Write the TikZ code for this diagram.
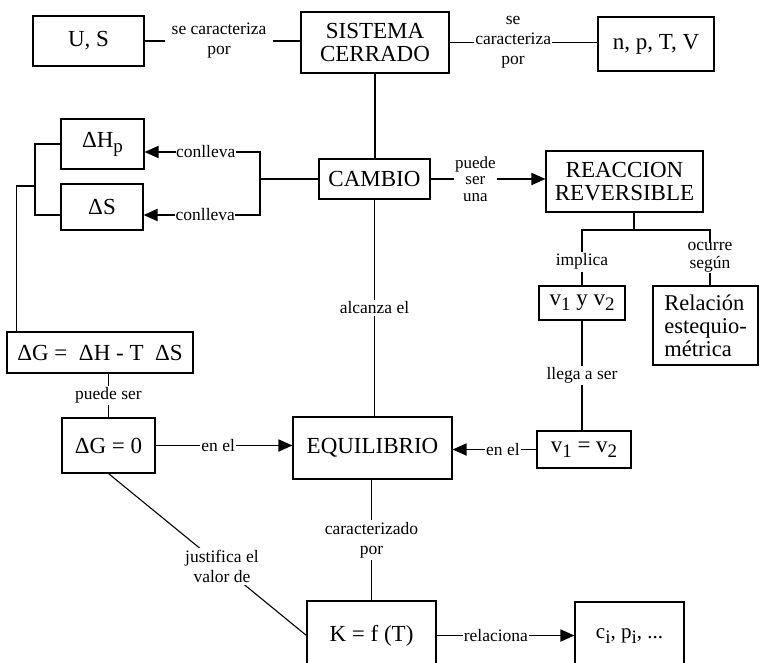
\documentclass[tikz,border=0pt]{standalone}
\usepackage{fontspec}
\setmainfont{Liberation Serif}
\usetikzlibrary{arrows.meta,calc}
\newcommand\bx[6]{\node[box, minimum width={(#4-#2)*1pt}, minimum height={(#5-#3)*1pt}] (#1) at ({(#2+#4)/2},{(#3+#5)/2}) {#6};}
\newcommand\sbs[1]{\lower5pt\hbox{\fontsize{19}{19}\selectfont #1}}
\begin{document}
\begin{tikzpicture}[x=1pt,y=-1pt,
  box/.style={draw, line width=1.1pt, inner sep=0pt, align=center, font=\fontsize{23}{23}\selectfont},
  ln/.style={line width=1.1pt},
  arr/.style={line width=1.8pt, -{Triangle[length=14pt,width=12pt]}},
  lbl/.style={fill=white, inner xsep=1pt, inner ysep=2pt, align=center, font=\fontsize{17.5}{20}\selectfont}]
\useasboundingbox (0,0) rectangle (762,663);
\bx{us}{33}{16}{144}{66}{U, S}
\bx{sc}{301}{12}{449}{73}{SISTEMA\\CERRADO}
\bx{npt}{598}{17}{714}{71}{n, p, T, V}
\bx{cam}{319}{159}{430}{199}{CAMBIO}
\bx{hp}{61}{119}{144}{169}{ΔH\sbs{p}}
\bx{ds}{61}{184}{143}{230}{ΔS}
\bx{rea}{546}{151}{703}{212}{REACCION\\REVERSIBLE}
\bx{v12}{539}{286}{625}{320}{v\sbs{1} y v\sbs{2}}
\node[box, minimum width=105pt, minimum height=79pt, align=left, font=\fontsize{22.5}{23}\selectfont] (rel) at (705.5,325.5) {Relación\\estequio-\\métrica};
\bx{dg}{7}{332}{193}{373}{ΔG =\ \ ΔH - T\ \ ΔS}
\bx{dg0}{62}{418}{155}{473}{ΔG = 0}
\bx{eq}{293}{417}{452}{479}{EQUILIBRIO}
\bx{veq}{537}{431}{631}{468}{v\sbs{1} = v\sbs{2}}
\bx{k}{307}{601}{436}{670}{K = f (T)}
\node[box, minimum width=109pt, minimum height=68pt, font=\fontsize{21}{20}\selectfont] (ci) at (629.5,636) {c\sbs{i}, p\sbs{i}, ...};

\draw[ln] (us.east) -- node[lbl, inner xsep=7pt, pos=0.478]{se caracteriza\\por} (us.east -| sc.west);
\draw[ln] (sc.east) -- node[lbl, pos=0.43]{se\\caracteriza\\por} (sc.east -| npt.west);
\draw[ln] (sc.south) -- (sc.south |- cam.north);
\draw[arr] (cam.east) -- node[lbl, pos=0.39, inner ysep=0pt, font=\fontsize{17}{16.5}\selectfont]{puede\\ser\\una} (cam.east -| rea.west);

\coordinate (bk) at (260,179);
\draw[ln] (cam.west) -- (bk);
\draw[arr] (bk) |- node[lbl, pos=0.735, inner xsep=0.5pt]{conlleva} ($(hp.east)+(0,8)$);
\draw[arr] (bk) |- node[lbl, pos=0.735, inner xsep=0.5pt]{conlleva} ($(ds.east)+(0,8)$);

\coordinate (lb) at (35,186);
\draw[ln] (hp.west) -- (hp.west -| lb) -- ($(ds.west -| lb)+(0,8)$) -- ($(ds.west)+(0,8)$);
\draw[ln] (lb) -| ($(dg.north west)+(10,0)$);

\draw[ln] (dg0.north) -- node[lbl]{puede ser} (dg0.north |- dg.south);
\draw[arr] (dg0.east) -- node[lbl, pos=0.457]{en el} (dg0.east -| eq.west);
\draw[ln] (cam.south) -- node[lbl]{alcanza el} (cam.south |- eq.north);
\draw[ln] (k.north) -- node[lbl]{caracterizado\\por} (k.north |- eq.south);
\draw[arr] (k.east) -- node[lbl, pos=0.43]{relaciona} (k.east -| ci.west);
\draw[ln] (dg0.south) -- node[lbl, pos=0.573]{justifica el\\valor de} (k.west);

\coordinate (rj) at (634,230);
\coordinate (oc) at (710,230);
\draw[ln] (rea.south -| rj) -- (rj);
\draw[ln] (v12.north) -- node[lbl, pos=0.43]{implica} (v12.north |- rj) -- (oc) -- node[lbl, inner ysep=0pt, font=\fontsize{17.5}{18}\selectfont]{ocurre\\según} (oc |- rel.north);
\draw[ln] (v12.south) -- node[lbl]{llega a ser} (v12.south |- veq.north);
\draw[arr] (veq.west) -- node[lbl, pos=0.4]{en el} (veq.west -| eq.east);
\end{tikzpicture}
\end{document}
